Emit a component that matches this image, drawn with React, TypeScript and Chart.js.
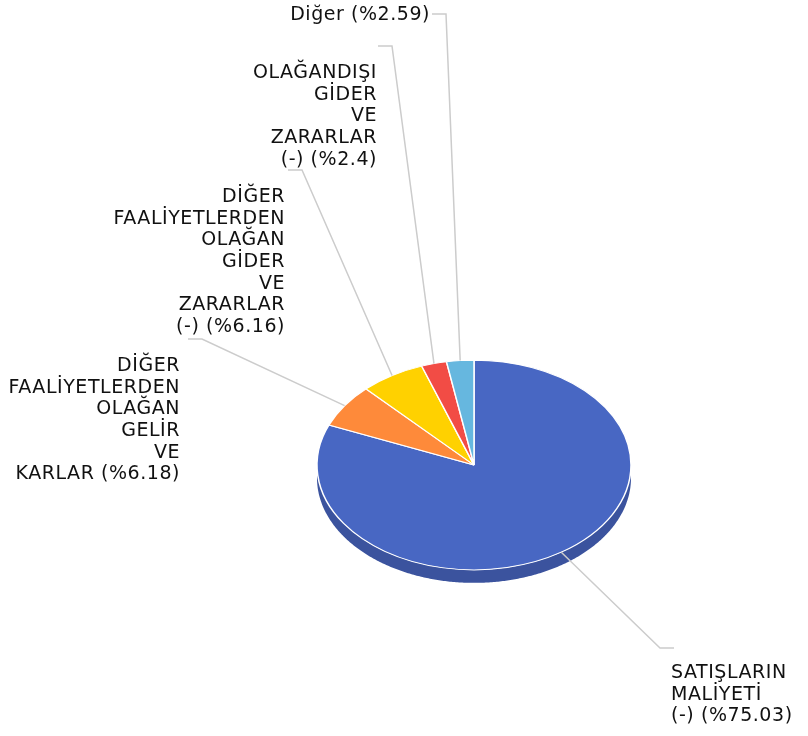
import React, { useEffect, useRef } from "react";
import { Chart, registerables } from "chart.js";

Chart.register(...registerables);

// ---- data ----
const categories = [
  "SATIŞLARIN MALİYETİ (-)",
  "DİĞER FAALİYETLERDEN OLAĞAN GELİR VE KARLAR",
  "DİĞER FAALİYETLERDEN OLAĞAN GİDER VE ZARARLAR (-)",
  "OLAĞANDIŞI GİDER VE ZARARLAR (-)",
  "Diğer",
];
const values = [75.03, 6.18, 6.16, 2.4, 2.59];
const percentLabels = ["75.03", "6.18", "6.16", "2.4", "2.59"];

// ---- styles ----
const topColors = ["#4867C3", "#FE8A3A", "#FFD100", "#F24C45", "#66B7DF"];
const sideColors = ["#3B539E", "#C96A2A", "#CCA600", "#C03C36", "#5293B3"];

// label placement: elbow offset from pie centre, stub direction, text offset from stub end
const labelLayout = [
  { ex: 186, ey: 183, dir: 1, tx: -3, ty: 25 },
  { ex: -272, ey: -126, dir: -1, tx: -8, ty: 27 },
  { ex: -172, ey: -295, dir: -1, tx: -3, ty: 27 },
  { ex: -82, ey: -419, dir: -1, tx: -1, ty: 27 },
  { ex: -28, ey: -451, dir: -1, tx: -2, ty: 1 },
];

const TILT = 0.668;
const DEPTH = 13;
const STUB = 14;
const LINE_H = 21.7;
const FONT = '19px "DejaVu Sans"';

function labelLines(name: string, pct: string): string[] {
  const words = name.split(" ");
  const last = words.pop() as string;
  return [...words, `${last} (%${pct})`];
}

const pie3d = {
  id: "pie3d",
  beforeDatasetsDraw(chart: any) {
    const ctx = chart.ctx as CanvasRenderingContext2D;
    const arcs = chart.getDatasetMeta(0).data as any[];
    if (!arcs.length) return;
    const { x: cx, y: cy, outerRadius: r } = arcs[0].getProps(["x", "y", "outerRadius"], true);
    arcs.forEach((arc: any, i: number) => {
      const { startAngle, endAngle } = arc.getProps(["startAngle", "endAngle"], true);
      for (let n = -1; n <= 1; n++) {
        const lo = Math.max(startAngle, 2 * Math.PI * n);
        const hi = Math.min(endAngle, 2 * Math.PI * n + Math.PI);
        if (hi <= lo) continue;
        const steps = Math.max(2, Math.ceil((hi - lo) / 0.01));
        ctx.beginPath();
        for (let s = 0; s <= steps; s++) {
          const t = lo + ((hi - lo) * s) / steps;
          const px = cx + r * Math.cos(t);
          const py = cy + TILT * r * Math.sin(t);
          if (s === 0) ctx.moveTo(px, py);
          else ctx.lineTo(px, py);
        }
        for (let s = steps; s >= 0; s--) {
          const t = lo + ((hi - lo) * s) / steps;
          ctx.lineTo(cx + r * Math.cos(t), cy + TILT * r * Math.sin(t) + DEPTH);
        }
        ctx.closePath();
        ctx.fillStyle = sideColors[i % sideColors.length];
        ctx.fill();
      }
    });
    ctx.save();
    ctx.translate(cx, cy);
    ctx.scale(1, TILT);
    ctx.translate(-cx, -cy);
  },
  afterDatasetsDraw(chart: any) {
    chart.ctx.restore();
  },
};

const pieLabels = {
  id: "pieLabels",
  afterDraw(chart: any) {
    const ctx = chart.ctx as CanvasRenderingContext2D;
    const arcs = chart.getDatasetMeta(0).data as any[];
    ctx.save();
    arcs.forEach((arc: any, i: number) => {
      const { x, y, outerRadius, startAngle, endAngle } = arc.getProps(
        ["x", "y", "outerRadius", "startAngle", "endAngle"],
        true
      );
      const m = (startAngle + endAngle) / 2;
      const px = x + outerRadius * Math.cos(m);
      const py = y + TILT * outerRadius * Math.sin(m);
      const L = labelLayout[i];
      const ex = x + L.ex;
      const ey = y + L.ey;
      const sx = ex + L.dir * STUB;
      ctx.strokeStyle = "#cccccc";
      ctx.lineWidth = 1.5;
      ctx.beginPath();
      ctx.moveTo(px, py);
      ctx.lineTo(ex, ey);
      ctx.lineTo(sx, ey);
      ctx.stroke();

      const lines = labelLines(categories[i], percentLabels[i]);
      ctx.font = FONT;
      (ctx as any).letterSpacing = "0.55px";
      ctx.fillStyle = "#111111";
      ctx.textAlign = L.dir > 0 ? "left" : "right";
      ctx.textBaseline = "middle";
      lines.forEach((ln, j) => {
        ctx.fillText(ln, sx + L.tx, ey + L.ty + j * LINE_H);
      });
    });
    ctx.restore();
  },
};

export default function App() {
  const ref = useRef<HTMLCanvasElement>(null);
  useEffect(() => {
    if (!ref.current) return;
    const chart = new Chart(ref.current, {
      type: "pie",
      data: {
        labels: categories,
        datasets: [
          {
            data: values,
            backgroundColor: topColors,
            borderColor: "#ffffff",
            borderWidth: 1.5,
            radius: 157,
          } as any,
        ],
      },
      options: {
        responsive: false,
        devicePixelRatio: 1,
        animation: false,
        events: [],
        layout: { padding: { left: 150, right: 10, top: 204, bottom: 10 } },
        plugins: {
          legend: { display: false },
          tooltip: { enabled: false },
        },
      },
      plugins: [pie3d, pieLabels],
    });
    return () => chart.destroy();
  }, []);
  return (
    <div style={{ position: "fixed", left: 0, top: 0, width: 808, height: 736, background: "#fff" }}>
      <canvas ref={ref} width={808} height={736} style={{ display: "block", width: 808, height: 736 }} />
    </div>
  );
}
